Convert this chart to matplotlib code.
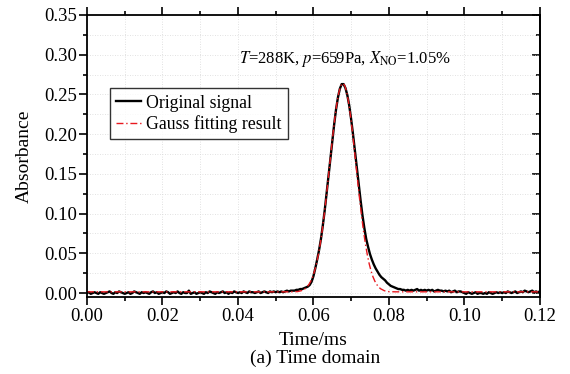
import numpy as np
import matplotlib
matplotlib.use("Agg")
import matplotlib.pyplot as plt
from matplotlib.ticker import MultipleLocator

plt.rcParams["font.family"] = ["Liberation Serif", "DejaVu Serif"]
plt.rcParams["mathtext.fontset"] = "stix"

# -- original signal, sampled every 0.0005 ms (values in units of 0.001) --
T_STEP = 0.0005
signal_milli = [
    0, 1, -1, 0, 1, 0, -1, 1, 0, -1,
    0, 1, 2, 0, -1, 1, 0, 2, 1, 0,
    -1, 0, 1, -1, 0, 2, 1, 0, -1, 1,
    0, 1, 0, -1, 1, 2, 0, 1, -1, 0,
    1, 0, 2, 1, -1, 0, 1, 0, 2, 0,
    -1, 1, 0, 0, 3, -1, 0, 1, -1, 0,
    1, 0, -1, 1, 0, 2, 1, 0, -1, 1,
    0, 1, 2, 0, 1, -1, 1, 0, 2, 1,
    0, 1, 0, 2, 1, 0, 2, 1, 1, 0,
    1, 2, 0, 1, 2, 1, 0, 2, 1, 2,
    1, 2, 1, 2, 1, 2, 3, 2, 3, 3,
    3, 4, 4, 5, 5, 6, 7, 8, 10, 14,
    21, 31, 42, 54, 68, 85, 104, 125, 147, 169,
    191, 212, 231, 246, 257, 263, 263, 258, 249, 236,
    219, 200, 179, 158, 137, 117, 98, 82, 68, 58,
    49, 42, 36, 31, 27, 23, 20, 18, 16, 13,
    11, 9, 8, 7, 6, 5, 5, 4, 4, 3,
    4, 3, 4, 3, 4, 5, 3, 4, 3, 4,
    3, 4, 3, 4, 2, 3, 4, 3, 3, 2,
    3, 2, 3, 1, 2, 3, 1, 2, 2, 1,
    0, -1, 1, 0, -1, 0, 1, -1, 0, 0,
    -1, 0, -1, 1, 0, -1, 0, 1, 0, 1,
    0, 1, 0, 2, 1, 0, 1, 2, 0, 1,
    2, 1, 3, 2, 1, 2, 3, 1, 2, 1,
    2,
]
signal_t = np.arange(len(signal_milli)) * T_STEP
signal = np.array(signal_milli) / 1000.0

# -- Gauss fitting result --
fit_t = [0.000, 0.020, 0.040, 0.050, 0.0538, 0.0548, 0.0558, 0.0568, 0.0578,
         0.0583, 0.0588, 0.0593, 0.0598, 0.0603, 0.0608, 0.0613, 0.0618,
         0.0623, 0.0628, 0.0633, 0.0638, 0.0643, 0.0648, 0.0653, 0.0658,
         0.0663, 0.0668, 0.0673, 0.0678, 0.0683, 0.0688, 0.0693, 0.0698,
         0.0703, 0.0708, 0.0713, 0.0718, 0.0723, 0.0728, 0.0733, 0.0738,
         0.0743, 0.0748, 0.0753, 0.0758, 0.0763, 0.0768, 0.0773, 0.0778,
         0.0788, 0.0798, 0.0808, 0.0818, 0.090, 0.100, 0.110, 0.120]
fit_y = [0.0015, 0.0015, 0.0015, 0.0015, 0.0015, 0.0016, 0.0018, 0.0029, 0.0054,
         0.0076, 0.0107, 0.0148, 0.0203, 0.0275, 0.0366, 0.0479, 0.0615,
         0.0775, 0.0958, 0.1161, 0.1379, 0.1605, 0.1832, 0.2048, 0.2244,
         0.2409, 0.2535, 0.2613, 0.2640, 0.2613, 0.2535, 0.2409, 0.2244,
         0.2048, 0.1832, 0.1605, 0.1379, 0.1161, 0.0958, 0.0775, 0.0615,
         0.0479, 0.0366, 0.0275, 0.0203, 0.0148, 0.0107, 0.0076, 0.0054,
         0.0029, 0.0018, 0.0016, 0.0015, 0.0015, 0.0015, 0.0015, 0.0015]

fig = plt.figure(figsize=(5.7, 3.74), dpi=100)
ax = fig.add_axes([0.1526, 0.2059, 0.7944, 0.754])

ax.plot(signal_t, signal, color="black", lw=1.7, label="Original signal")
ax.plot(fit_t, fit_y, color="#e8191f", lw=1.0, ls=(0, (5, 2, 1, 2)),
        label="Gauss fitting result")

ax.set_xlim(0, 0.12)
ax.set_ylim(-0.005, 0.35)
ax.xaxis.set_major_locator(MultipleLocator(0.02))
ax.xaxis.set_minor_locator(MultipleLocator(0.01))
ax.yaxis.set_major_locator(MultipleLocator(0.05))
ax.yaxis.set_minor_locator(MultipleLocator(0.025))
ax.xaxis.set_major_formatter(lambda v, p: f"{v:.2f}")
ax.yaxis.set_major_formatter(lambda v, p: f"{v:.2f}")

ax.grid(True, which="both", color="#d8d8d8", lw=0.6, ls=(0, (1, 2)))
ax.set_axisbelow(True)

ax.tick_params(axis="x", which="both", direction="out", top=True, labelsize=13.5,
               width=1.2, pad=2)
ax.tick_params(axis="y", which="both", direction="out", right=False, labelsize=13.5,
               width=1.2, pad=1)
ax.tick_params(which="major", length=6)
ax.tick_params(which="minor", length=3)
for s in ax.spines.values():
    s.set_linewidth(1.3)

sec = ax.secondary_yaxis("right")
sec.yaxis.set_major_locator(MultipleLocator(0.05))
sec.yaxis.set_minor_locator(MultipleLocator(0.025))
sec.tick_params(which="both", direction="in", labelright=False, width=1.2)
sec.tick_params(which="major", length=6)
sec.tick_params(which="minor", length=3)
sec.spines["right"].set_linewidth(1.3)

ax.set_xlabel("Time/ms", fontsize=14, labelpad=5)
ax.set_ylabel("Absorbance", fontsize=14, labelpad=8)

ax.text(0.0683, 0.294, r"$T$=288K, $p$=659Pa, $X_{\mathrm{NO}}$=1.05%",
        fontsize=12, ha="center", va="center")

leg = ax.legend(loc="upper left", bbox_to_anchor=(0.05, 0.74), fontsize=12.8,
                frameon=True, fancybox=False, edgecolor="black",
                handlelength=1.4, handletextpad=0.3, borderpad=0.35,
                labelspacing=0.2, borderaxespad=0)
leg.get_frame().set_linewidth(1.0)

fig.text(0.553, 0.043, "(a) Time domain", fontsize=14, ha="center", va="center")

fig.savefig("out.png", dpi=100)
